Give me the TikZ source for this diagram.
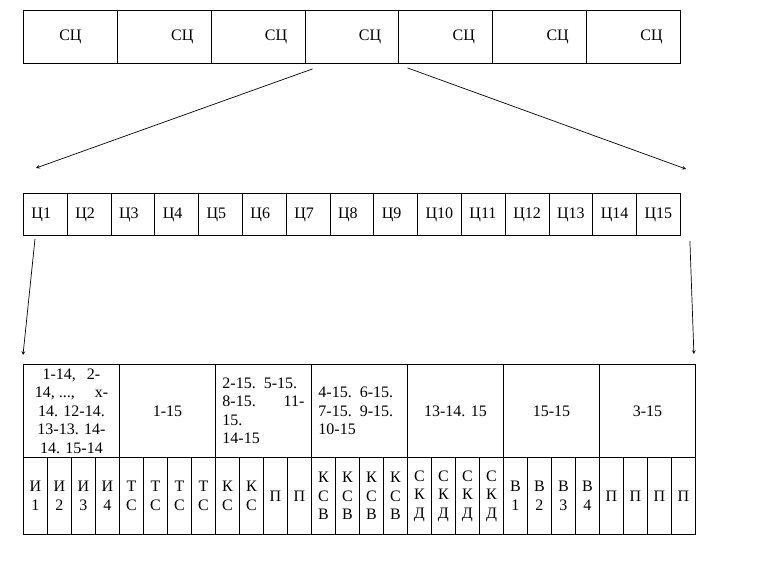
\documentclass[tikz,border=0pt]{standalone}
\usepackage{fontspec}
\setmainfont{Liberation Serif}
\usetikzlibrary{calc}

\begin{document}
\begin{tikzpicture}[x=1pt,y=-1pt,>=stealth,font=\fontsize{16}{18.5}\selectfont,
	cellbox/.style={draw,line width=0.9pt,inner sep=0pt,anchor=north west}]
	\useasboundingbox (0,0) rectangle (776,560);
	% top row
	\node[cellbox,minimum width=93.86pt,minimum height=53pt] (sc1) at (23,10) {\strut СЦ};
	\foreach \i in {2,...,7}
	\node[cellbox,minimum width=93.86pt,minimum height=53pt] (sc\i) at ({23+(\i-1)*93.86},10) {\strut\hspace*{36pt}СЦ};
	% second row
	\foreach \i in {1,...,15}
	\node[cellbox,minimum width=43.8pt,minimum height=42pt,inner xsep=8pt,text width=27.8pt,align=left] (c\i) at ({23+(\i-1)*43.8},193) {\strut Ц\i};
	% big table, upper part
	\tikzset{upper/.style={cellbox,minimum width=96pt,minimum height=93pt}}
	\node[upper,align=center] (g1) at (23,364) {1-14,\hspace{11pt}2-\\14, ...,\hspace{20pt}x-\\14. 12-14.\\13-13. 14-\\14. 15-14};
	\node[upper] (g2) at (119,364) {1-15};
	\node[upper,inner xsep=7pt,text width=82pt,align=left] (g3) at (215,364) {2-15.\hspace{8pt}5-15.\\8-15.\hfill 11-\\15.\\14-15};
	\node[upper,inner xsep=7pt,text width=82pt,align=left] (g4) at (311,364) {4-15. 6-15.\\7-15. 9-15.\\10-15};
	\node[upper] (g5) at (407,364) {13-14. 15};
	\node[upper] (g6) at (503,364) {15-15};
	\node[upper] (g7) at (599,364) {3-15};
	% big table, lower part
	\foreach \j/\t in {1/{И\\1},2/{И\\2},3/{И\\3},4/{И\\4},5/{Т\\С},6/{Т\\С},7/{Т\\С},8/{Т\\С},
		9/{К\\С},10/{К\\С},11/П,12/П,13/{К\\С\\В},14/{К\\С\\В},15/{К\\С\\В},16/{К\\С\\В},
		17/{С\\К\\Д},18/{С\\К\\Д},19/{С\\К\\Д},20/{С\\К\\Д},21/{В\\1},22/{В\\2},23/{В\\3},24/{В\\4},
		25/П,26/П,27/П,28/П}
	\node[cellbox,minimum width=24pt,minimum height=77pt,align=center] (low\j) at ({23+(\j-1)*24},457) {\t};
	% arrows
	\coordinate (a1) at ($(sc4.south west)+(8,5)$);
	\coordinate (a2) at ($(sc5.south west)+(9,4)$);
	\coordinate (b1) at (36,168);
	\coordinate (b2) at (686,169);
	\coordinate (a3) at ($(c1.south west)+(12,3)$);
	\coordinate (a4) at ($(c15.south east)+(9,5)$);
	\coordinate (b3) at ($(g1.north west)+(0,-9)$);
	\coordinate (b4) at ($(g7.north east)+(-2,-10)$);
	\draw[->,line width=0.7pt] (a1) -- (b1);
	\draw[->,line width=0.7pt] (a2) -- (b2);
	\draw[->,line width=0.7pt] (a3) -- (b3);
	\draw[->,line width=0.7pt] (a4) -- (b4);
\end{tikzpicture}
\end{document}
